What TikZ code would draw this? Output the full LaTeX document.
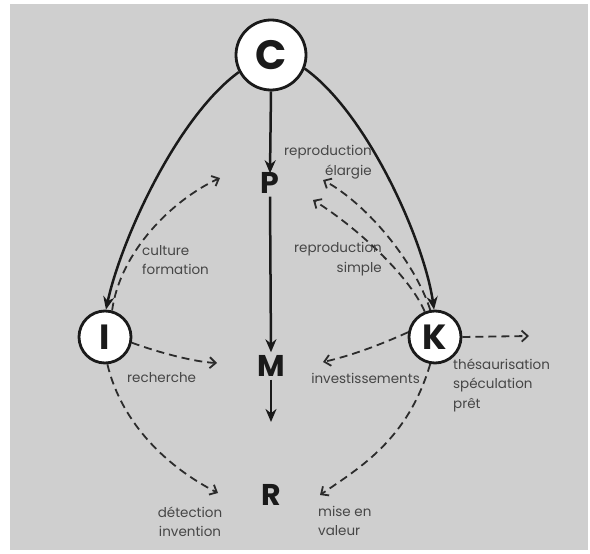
\documentclass[tikz,border=0pt]{standalone}
\usepackage{fontspec}
\setmainfont{Poppins}
\usetikzlibrary{arrows.meta}
\definecolor{bg}{HTML}{CFCFCF}
\definecolor{ink}{HTML}{1A1A1A}
\definecolor{lab}{HTML}{464646}
\begin{document}
\begin{tikzpicture}[x=1pt,y=-1pt,
  circ/.style={circle,draw=ink,line width=2.8pt,fill=white,minimum size=52pt,inner sep=0pt,
    font=\fontsize{35}{35}\selectfont\bfseries,text=ink},
  bigC/.style={circ,minimum size=70pt,font=\fontsize{41}{41}\selectfont\bfseries},
  letter/.style={font=\fontsize{30}{30}\selectfont\bfseries,text=ink,inner sep=3pt},
  lbl/.style={font=\fontsize{13.5}{19.5}\selectfont,text=lab,inner sep=0pt},
  solidarrow/.style={draw=ink,line width=2.5pt,-{Stealth[length=13pt,width=11pt]}},
  dasharrow/.style={draw=ink!92,line width=1.8pt,dash pattern=on 8pt off 5pt,
    -{Straight Barb[length=6pt,width=11pt]}},
]
\fill[white] (0,0) rectangle (590,554);
\useasboundingbox (0,0) rectangle (590,554);
\fill[bg] (10,4) rectangle (588,550);

% main nodes
\node[bigC] (C) at (271,55) {C};
\node[circ] (I) at (105,337) {I};
\node[circ] (K) at (435,337) {K};
\node[letter] (P) at (270,183) {P};
\node[letter] (M) at (271,366) {M};
\node[letter] (R) at (271,495) {R};

% free ends of the arrows
\coordinate (mr) at (271,422);
\coordinate (cf) at (220,178);
\coordinate (rc) at (217,363);
\coordinate (di) at (218,493);
\coordinate (re) at (323,180);
\coordinate (rs) at (313,200);
\coordinate (iv) at (323,362);
\coordinate (th) at (529,336);
\coordinate (mv) at (320,495);

% solid arrows
\draw[solidarrow] (C.south) -- ([yshift=-4pt]P.north);
\draw[solidarrow] (P.south) -- (M.north);
\draw[solidarrow] (M.south) -- (mr);
\draw[solidarrow] (C.208) .. controls (177,117) and (121,240) .. (I.88);
\draw[solidarrow] (C.-22) .. controls (367,113) and (424,240) .. (K.92);

% dashed arrows from I
\draw[dasharrow] (I.75) .. controls (120,252) and (172,200) .. (cf);
\draw[dasharrow] (I.-12) .. controls (160,353) and (195,362) .. (rc);
\draw[dasharrow] (I.-85) .. controls (122,425) and (169,468) .. (di);

% dashed arrows from K
\draw[dasharrow] (K.100) .. controls (415,262) and (367,204) .. (re);
\draw[dasharrow] (K.112) .. controls (409,275) and (355,226) .. (rs);
\draw[dasharrow] (K.170) .. controls (380,345) and (350,356) .. (iv);
\draw[dasharrow] (K.east) -- (th);
\draw[dasharrow] (K.-100) .. controls (408,439) and (361,467) .. (mv);

% labels
\node[lbl,anchor=east,align=right] (l1) at (372,162) {reproduction\\élargie};
\node[lbl,anchor=west,align=left] (l2) at (142,260) {culture\\formation};
\node[lbl,anchor=west] (l3) at (127,378) {recherche};
\node[lbl,anchor=east,align=right] (l4) at (382,259) {reproduction\\simple};
\node[lbl,anchor=east] (l5) at (420,378) {investissements};
\node[lbl,anchor=west,align=left] (l6) at (453,385) {thésaurisation\\spéculation\\prêt};
\node[lbl,align=center] (l7) at (190,522) {détection\\invention};
\node[lbl,anchor=west,align=left] (l8) at (318,521) {mise en\\valeur};
\end{tikzpicture}
\end{document}
